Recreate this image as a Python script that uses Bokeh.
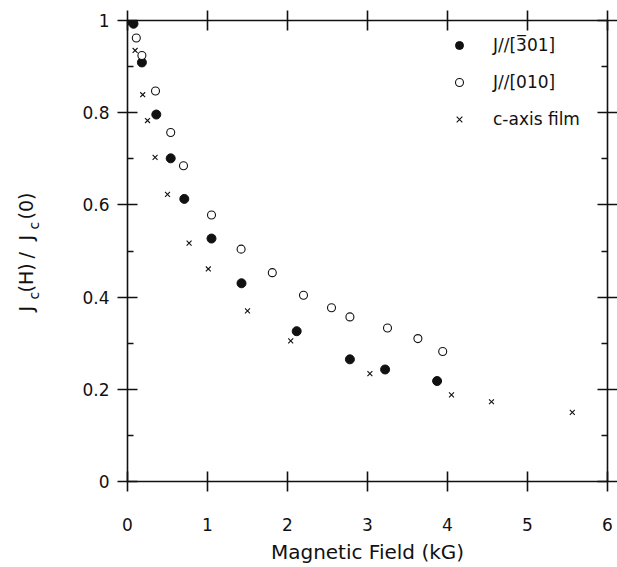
import math
from bokeh.plotting import figure
from bokeh.layouts import row
from bokeh.models import (LinearAxis, FixedTicker, CustomJSTickFormatter, Range1d,
                          Legend, LegendItem, Label)
from bokeh.embed import file_html
from bokeh.resources import INLINE

# ---- data ----
x_ticks = [0, 1, 2, 3, 4, 5, 6]
y_ticks = [0, 0.2, 0.4, 0.6, 0.8, 1.0]
y_minor = [0.1, 0.3, 0.5, 0.7, 0.9]

h_301 = [0.0, 0.075, 0.18, 0.36, 0.54, 0.71, 1.05, 1.425, 2.115, 2.78, 3.22, 3.87]
j_301 = [1.0, 0.993, 0.909, 0.796, 0.701, 0.613, 0.527, 0.430, 0.326, 0.265, 0.243, 0.218]

h_010 = [0.11, 0.18, 0.35, 0.54, 0.70, 1.05, 1.42, 1.81, 2.2, 2.55, 2.78, 3.25, 3.63, 3.94]
j_010 = [0.962, 0.924, 0.847, 0.757, 0.685, 0.578, 0.504, 0.453, 0.404, 0.377, 0.357,
         0.333, 0.310, 0.282]

h_film = [0.095, 0.19, 0.25, 0.345, 0.50, 0.77, 1.01, 1.5, 2.04, 3.03, 4.05, 4.55, 5.56]
j_film = [0.935, 0.839, 0.783, 0.703, 0.623, 0.517, 0.461, 0.370, 0.305, 0.234, 0.188,
          0.173, 0.150]

labels = ["J//[3\u030501]", "J//[010]", "c-axis film"]
x_title = "Magnetic Field (kG)"

FONT = "DejaVu Sans"
INK = "#111111"
H = 567
LW = 50          # width of the strip that carries the y-axis title
W = 617 - LW
FB = 481         # canvas y of the frame bottom (frames are aligned in the row)

p = figure(width=W, height=H, output_backend="svg", toolbar_location=None,
           x_range=Range1d(0, 6), y_range=Range1d(0, 1),
           min_border_left=127 - LW, min_border_right=10, min_border_top=20,
           min_border_bottom=86, x_axis_location=None, y_axis_location=None)
p.grid.visible = False
p.outline_line_color = None
p.background_fill_color = "white"
p.border_fill_color = "white"


def style_axis(ax, show_labels):
    ax.axis_line_color = INK
    ax.axis_line_width = 1.6
    ax.major_tick_line_color = INK
    ax.major_tick_line_width = 1.6
    ax.major_tick_in = 10
    ax.major_tick_out = 10
    ax.minor_tick_line_color = INK
    ax.minor_tick_line_width = 1.3
    ax.minor_tick_in = 6
    ax.minor_tick_out = 0
    if not show_labels:
        ax.major_label_text_color = None
        ax.major_label_text_font_size = "1px"
        ax.major_label_standoff = 0
    else:
        ax.major_label_text_font = FONT
        ax.major_label_text_font_size = "17px"
        ax.major_label_text_color = INK


fmt = CustomJSTickFormatter(code="return String(Math.round(tick*10)/10);")

# bottom
xb = LinearAxis(ticker=FixedTicker(ticks=x_ticks, minor_ticks=[]), formatter=fmt)
style_axis(xb, True)
xb.major_label_standoff = 26
xb.axis_label = x_title
xb.axis_label_text_font = FONT
xb.axis_label_text_font_size = "20px"
xb.axis_label_text_font_style = "normal"
xb.axis_label_text_color = INK
xb.axis_label_standoff = 6
p.add_layout(xb, "below")

# top
xt = LinearAxis(ticker=FixedTicker(ticks=x_ticks, minor_ticks=[]))
style_axis(xt, False)
p.add_layout(xt, "above")

# left
yl = LinearAxis(ticker=FixedTicker(ticks=y_ticks, minor_ticks=y_minor), formatter=fmt)
style_axis(yl, True)
yl.major_label_standoff = 8
p.add_layout(yl, "left")

# right
yr = LinearAxis(ticker=FixedTicker(ticks=y_ticks, minor_ticks=y_minor))
style_axis(yr, False)
p.add_layout(yr, "right")

# data
r1 = p.scatter(h_301, j_301, marker="circle", size=9, fill_color=INK, line_color=INK)
r2 = p.scatter(h_010, j_010, marker="circle", size=8, fill_color="white",
               line_color=INK, line_width=1.1)
r3 = p.scatter(h_film, j_film, marker="x", size=7, line_color=INK, line_width=1.1)

legend = Legend(items=[LegendItem(label=labels[0], renderers=[r1]),
                       LegendItem(label=labels[1], renderers=[r2]),
                       LegendItem(label=labels[2], renderers=[r3])],
                location=(322, 352), orientation="vertical", padding=0, margin=0,
                spacing=17, glyph_height=20, glyph_width=20, label_height=20,
                label_standoff=24, label_text_font=FONT, label_text_font_size="17px",
                label_text_color=INK, border_line_color=None, background_fill_alpha=0)
p.add_layout(legend)

# strip on the left carrying the rotated y-axis title J_c(H) / J_c(0)
t = figure(width=LW, height=H, output_backend="svg", toolbar_location=None,
           x_range=Range1d(0, LW), y_range=Range1d(0, H),
           min_border_left=0, min_border_right=0, min_border_top=0, min_border_bottom=0,
           x_axis_location=None, y_axis_location=None)
t.grid.visible = False
t.outline_line_color = None
t.background_fill_color = "white"
t.border_fill_color = "white"

pieces = [("J", 311, False), ("c", 299, True), ("(H)", 292, False),
          ("/", 258, False), ("J", 240, False), ("c", 229, True), ("(0)", 219, False)]
for txt, cy, sub in pieces:
    cx = 33 if sub else 25
    t.add_layout(Label(x=cx, y=FB - cy, x_units="screen", y_units="screen",
                       text=txt, angle=math.pi / 2, text_align="left",
                       text_baseline="alphabetic", text_font=FONT,
                       text_font_size="14px" if sub else "19px", text_color=INK))

layout = row(t, p, spacing=0)
open("out.html", "w").write(file_html(layout, INLINE))
